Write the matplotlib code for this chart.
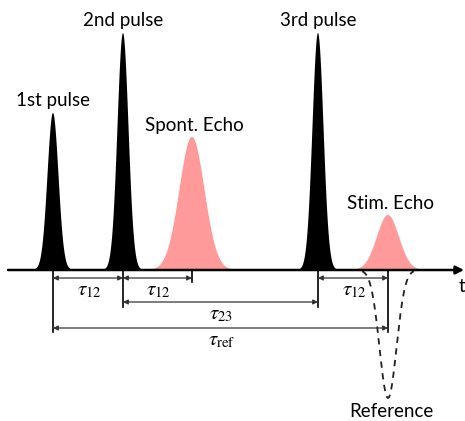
import numpy as np
import matplotlib
matplotlib.use("Agg")
import matplotlib.pyplot as plt

plt.rcParams['mathtext.fontset'] = 'stix'

# --- data (time axis in arbitrary units, amplitude with baseline 0) ---
pulse_labels = ["1st pulse", "2nd pulse", "3rd pulse"]
pulse_times = [53, 123, 318]
pulse_amps = [157, 237, 237]
pulse_sigma = [5.5, 5.5, 5.5]

echo_labels = ["Spont. Echo", "Stim. Echo"]
echo_times = [192, 388]
echo_amps = [133, 55]
echo_sigma = [12.5, 11.0]

ref_label = "Reference"
ref_time = 388
ref_amp = -128
ref_sigma = 8.5

# interval markers: (start, end, level, label)
interval_labels = [r"$\tau_{12}$", r"$\tau_{12}$", r"$\tau_{12}$", r"$\tau_{23}$", r"$\tau_{\mathrm{ref}}$"]
interval_starts = [53, 123, 318, 123, 53]
interval_ends = [123, 192, 388, 318, 388]
interval_levels = [-8, -8, -8, -32, -58]

tick_times = [53, 123, 192, 318, 388]
tick_depths = [-62, -37, -12, -37, -62]

fig = plt.figure(figsize=(4.65, 4.21), dpi=100)
ax = fig.add_axes([0, 0, 1, 1])
ax.set_xlim(0, 465)
ax.set_ylim(-151, 270)
ax.axis('off')

x = np.linspace(0, 465, 4000)
FONT = 'Lato'
fs = 13.5

def g(t0, a, s):
    return a * np.exp(-(x - t0) ** 2 / (2 * s ** 2))

for t0, a, s, lab in zip(pulse_times, pulse_amps, pulse_sigma, pulse_labels):
    ax.fill_between(x, 0, g(t0, a, s), color='black', lw=0, zorder=2)
    ax.text(t0, a + 4, lab, ha='center', va='bottom', fontsize=fs, family=FONT)

for t0, a, s, lab in zip(echo_times, echo_amps, echo_sigma, echo_labels):
    ax.fill_between(x, 0, g(t0, a, s), color='#ff9a9a', lw=0, zorder=2)
    ax.text(t0 + 2, a + 3, lab, ha='center', va='bottom', fontsize=fs, family=FONT)

mask = np.abs(x - ref_time) < 26
ax.plot(x[mask], g(ref_time, ref_amp, ref_sigma)[mask], ls=(0, (3.5, 3)), color='#222222', lw=1.3, zorder=3)
ax.text(ref_time + 3, ref_amp - 5, ref_label, ha='center', va='top', fontsize=fs, family=FONT)

# time axis
ax.annotate('', xy=(464, 0), xytext=(8, 0),
            arrowprops=dict(arrowstyle='-|>', lw=1.8, color='black', mutation_scale=12,
                            shrinkA=0, shrinkB=0), zorder=4)
ax.text(459, -8, 't', ha='left', va='top', fontsize=fs, family=FONT)

# tick lines
for t0, d in zip(tick_times, tick_depths):
    ax.plot([t0, t0], [0, d], color='black', lw=1.2, zorder=3)

# interval arrows
for s, e, lev, lab in zip(interval_starts, interval_ends, interval_levels, interval_labels):
    ax.annotate('', xy=(e, lev), xytext=(s, lev),
                arrowprops=dict(arrowstyle='<|-|>', lw=0.9, color='#333333', mutation_scale=7,
                                shrinkA=0, shrinkB=0), zorder=3)
    ax.text((s + e) / 2 + 1, lev - 2, lab, ha='center', va='top', fontsize=15)

fig.savefig('out.png', dpi=100)
